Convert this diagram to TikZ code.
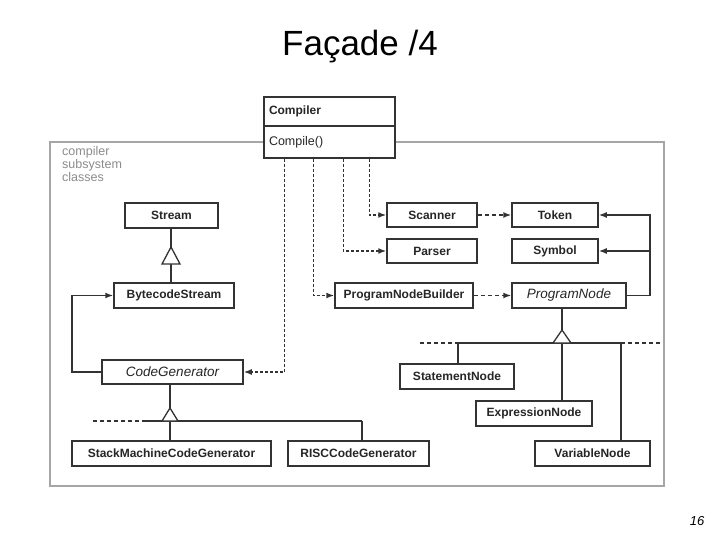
\documentclass[tikz,border=0pt]{standalone}
\usepackage{fontspec}
\setmainfont{Liberation Sans}
\usetikzlibrary{arrows.meta}
\begin{document}
\begin{tikzpicture}[x=1pt,y=-1pt,
  cls/.style={draw=black!80, line width=1.5pt, fill=white, minimum height=25pt, inner sep=0pt,
    font=\fontsize{12}{14}\selectfont\bfseries, text=black!85},
  abs/.style={cls, font=\fontsize{13.5}{15}\selectfont\itshape},
  dep/.style={draw=black!80, line width=1.5pt, dash pattern=on 3pt off 2pt, -{Latex[length=8pt,width=6pt]}},
  assoc/.style={draw=black!80, line width=1.5pt, -{Latex[length=8pt,width=6pt]}},
  inh/.style={draw=black!80, line width=1.5pt},
  tri/.style={draw=black!80, line width=1.3pt, fill=white},
  ext/.style={draw=black!80, line width=1.5pt, dash pattern=on 4pt off 3pt}]
\useasboundingbox (0,0) rectangle (720,540);
\fill[white] (0,0) rectangle (720,540);

% title and page number
\node[font=\fontsize{35}{40}\selectfont] (title) at (360,47) {Façade /4};
\node[font=\fontsize{13}{15}\selectfont\itshape] (page) at (697,521) {16};

% subsystem frame
\draw[draw=black!35, line width=1.8pt] (50,142) rectangle (664,486);
\node[anchor=north west, align=left, text=black!45, inner sep=0pt,
  font=\fontsize{12.5}{13}\selectfont] (lbl) at (62,146) {compiler\\subsystem\\classes};

% Compiler
\node[cls, minimum width=131pt, minimum height=29pt, text width=121pt, align=left] (ctop) at (329.5,111.5) {Compiler};
\node[cls, minimum width=131pt, minimum height=32pt, text width=121pt, align=left,
  font=\fontsize{12.5}{14}\selectfont] (cbot) at (329.5,142) {Compile()};

% classes
\node[cls, minimum width=93pt] (stream) at (171.5,215.5) {Stream};
\node[cls, minimum width=120pt] (bstream) at (174,295.5) {BytecodeStream};
\node[abs, minimum width=141pt, minimum height=24pt] (cg) at (172.5,372) {CodeGenerator};
\node[cls, minimum width=90pt, minimum height=24pt] (scanner) at (432,215) {Scanner};
\node[cls, minimum width=90pt, minimum height=24pt] (parser) at (432,251) {Parser};
\node[cls, minimum width=138pt] (pnb) at (404,295.5) {ProgramNodeBuilder};
\node[cls, minimum width=86pt, minimum height=24pt] (token) at (555,215) {Token};
\node[cls, minimum width=86pt, minimum height=24pt] (symbol) at (555,251) {Symbol};
\node[abs, minimum width=114pt] (pn) at (569,295.5) {ProgramNode};
\node[cls, minimum width=114pt] (stmt) at (457,376.5) {StatementNode};
\node[cls, minimum width=116pt] (expr) at (534,413.5) {ExpressionNode};
\node[cls, minimum width=115pt] (var) at (592.5,453.5) {VariableNode};
\node[cls, minimum width=199pt] (smcg) at (171.5,453.5) {StackMachineCodeGenerator};
\node[cls, minimum width=141pt] (risc) at (358.5,453.5) {RISCCodeGenerator};

% Compiler dependencies
\draw[dep] ([xshift=106pt]cbot.south west) |- (scanner.west);
\draw[dep] ([xshift=80pt]cbot.south west) |- (parser.west);
\draw[dep] ([xshift=50pt]cbot.south west) |- (pnb.west);
\draw[dep] ([xshift=21pt]cbot.south west) |- (cg.east);

% other dependencies / associations
\draw[dep, dash pattern=on 4pt off 3pt] (scanner.east) -- (token.west);
\draw[dep, dash pattern=on 4pt off 3pt] (pnb.east) -- (pn.west);
\coordinate (rr) at (650,295.5);
\draw[assoc] (pn.east) -- (rr) |- (token.east);
\draw[assoc] (rr) |- (symbol.east);
\coordinate (ll) at (72,372);
\draw[assoc] (cg.west) -- (ll) |- (bstream.west);

% Stream hierarchy
\coordinate (a1) at (171,247);
\draw[inh] (stream.south -| a1) -- (a1);
\draw[inh] ([yshift=-17pt]a1) -- (bstream.north -| a1);
\draw[tri] (a1) -- ++(-9,17) -- ++(18,0) -- cycle;

% CodeGenerator hierarchy
\coordinate (a2) at (170,408);
\coordinate (b2) at (170,421);
\draw[inh] (cg.south -| a2) -- (a2);
\draw[inh] (145,421) coordinate (h2l) -- (362,421) coordinate (h2r);
\draw[inh] (b2) -- (smcg.north -| b2);
\draw[inh] (h2r) -- (risc.north -| h2r);
\draw[ext] (93,421) coordinate (e2) -- (h2l);
\draw[tri] (a2) -- ++(-8,13) -- ++(16,0) -- cycle;

% ProgramNode hierarchy
\coordinate (a3) at (562,330);
\coordinate (b3) at (562,343);
\draw[inh] (pn.south -| a3) -- (a3);
\draw[inh] (458,343) coordinate (h3l) -- (621,343) coordinate (h3r);
\draw[inh] (h3l) -- (stmt.north -| h3l);
\draw[inh, line width=2pt] (b3) -- (expr.north -| b3);
\draw[inh] (h3r) -- (var.north -| h3r);
\draw[ext] (420,343) coordinate (e3l) -- (h3l);
\draw[ext] (h3r) -- (660,343) coordinate (e3r);
\draw[tri] (a3) -- ++(-9,13) -- ++(18,0) -- cycle;
\end{tikzpicture}
\end{document}
